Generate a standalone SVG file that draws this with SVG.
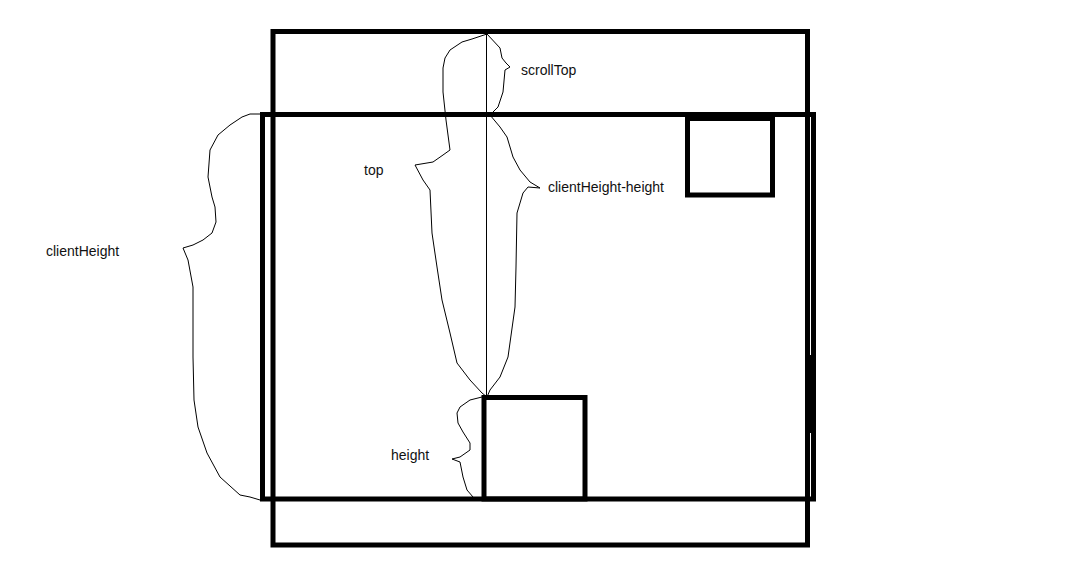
<svg xmlns="http://www.w3.org/2000/svg" width="1076" height="568" viewBox="0 0 1076 568">
<style>
.box{fill:none;stroke:#000;stroke-width:5}
.brace{fill:none;stroke:#000;stroke-width:1;stroke-linejoin:round;stroke-linecap:round}
.lbl{font-family:"Liberation Sans",Arial,sans-serif;font-size:14px;fill:#111}
</style>
<rect width="1076" height="568" fill="#fff"/>
<g id="document">
<rect class="box" x="273" y="31.5" width="534.5" height="513.5"/>
</g>
<g id="viewport">
<rect class="box" x="262.5" y="114.5" width="551" height="384.5"/>
<rect x="805" y="355" width="11" height="78" fill="#000"/>
</g>
<g id="topBox">
<rect class="box" x="687.5" y="118.5" width="85" height="76.5"/>
</g>
<g id="bottomBox">
<rect class="box" x="484" y="397.5" width="101" height="101.5"/>
</g>
<g id="connectors">
<line x1="486.5" y1="34" x2="486.5" y2="397" stroke="#000" stroke-width="1"/>
<polyline class="brace" points="487,34 500,48 502,58 506,63 510,67 505,70 503,92 498,107 490,115"/>
<polyline class="brace" points="487,34 472,39 462,42 450,50 445,58 443,68 443,92 446,120 450,150 443,155 433,162 415,165 423,180 430,190 432,233 437,267 442,300 450,333 457,363 470,380 482,393 487,397"/>
<polyline class="brace" points="490,115 500,127 507,137 513,157 520,170 530,182 540,188 528,187 523,193 517,213 516,267 515,307 508,357 500,377 490,390 487,397"/>
<polyline class="brace" points="482,397 470,400 460,407 457,413 458,423 463,432 470,443 470,450 460,457 452,459 460,462 463,477 467,490 473,497"/>
<polyline class="brace" points="261,114 250,114 242,117 230,125 218,135 210,150 208,177 212,197 215,207 216,222 212,233 203,240 193,245 183,248 188,260 193,287 193,357 194,400 198,427 207,453 220,477 240,495 250,497 260,500"/>
</g>
<g id="labels">
<text class="lbl" x="521" y="75">scrollTop</text>
<text class="lbl" x="364" y="175">top</text>
<text class="lbl" x="548" y="192">clientHeight-height</text>
<text class="lbl" x="46" y="256">clientHeight</text>
<text class="lbl" x="391" y="460">height</text>
</g>
</svg>
